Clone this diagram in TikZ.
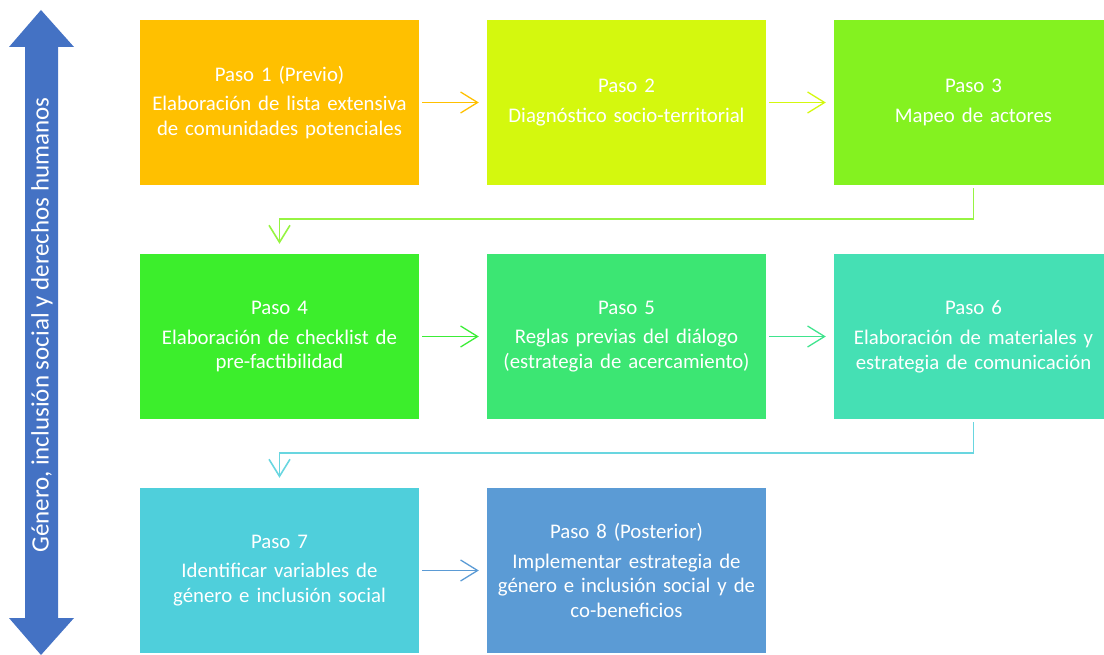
\documentclass[tikz,border=0pt]{standalone}
\usepackage{fontspec}
\setmainfont{Carlito}
\usepackage{tikz}
\usetikzlibrary{
    arrows.meta,
    positioning
}
\usepackage{xcolor}
\definecolor{pasoA}{HTML}{FFC000}
\definecolor{pasoB}{HTML}{D4F80E}
\definecolor{pasoC}{HTML}{84F220}
\definecolor{pasoD}{HTML}{3CEE2C}
\definecolor{pasoE}{HTML}{3CE673}
\definecolor{pasoF}{HTML}{45E0B4}
\definecolor{pasoG}{HTML}{4FCFDB}
\definecolor{pasoH}{HTML}{5B9BD5}
\definecolor{ejeazul}{HTML}{4472C4}

\begin{document}
\begin{tikzpicture}[
        x=1pt, y=-1pt,
        >={Straight Barb[length=17pt, width=21pt]},
        paso/.style={
            rectangle,
            minimum width=279pt,
            minimum height=165pt,
            inner sep=0pt,
            text width=270pt,
            align=center,
            text=white,
            font=\fontsize{20.8}{24.8}\selectfont
        },
        enlace/.style={
            ->,
            line width=1.3pt,
            shorten <=3pt,
            shorten >=8pt
        }
    ]
        \useasboundingbox (0,0) rectangle (1104,655);

        % eje vertical
        \fill[ejeazul] (41,10) -- (74,47) -- (58,47) -- (58,618) -- (74,618)
            -- (41,655) -- (9,618) -- (25,618) -- (25,47) -- (9,47) -- cycle;
        \node[text=white, rotate=90, font=\fontsize{25}{30}\selectfont] (eje) at (42,325)
            {Género, inclusión social y derechos humanos};

        % pasos
        \node[paso, fill=pasoA] (p1) at (279.5,102.5)
            {Paso 1 (Previo)\\[5pt]Elaboración de lista extensiva\\de comunidades potenciales};
        \node[paso, fill=pasoB] (p2) at (626.5,102.5)
            {Paso 2\\[5pt]Diagnóstico socio-territorial};
        \node[paso, fill=pasoC] (p3) at (973.5,102.5)
            {Paso 3\\[5pt]Mapeo de actores};
        \node[paso, fill=pasoD] (p4) at (279.5,336.5)
            {Paso 4\\[5pt]Elaboración de checklist de\\pre-factibilidad};
        \node[paso, fill=pasoE] (p5) at (626.5,336.5)
            {Paso 5\\[5pt]Reglas previas del diálogo\\(estrategia de acercamiento)};
        \node[paso, fill=pasoF] (p6) at (973.5,336.5)
            {Paso 6\\[5pt]Elaboración de materiales y\\estrategia de comunicación};
        \node[paso, fill=pasoG] (p7) at (279.5,570.5)
            {Paso 7\\[5pt]Identificar variables de\\género e inclusión social};
        \node[paso, fill=pasoH] (p8) at (626.5,570.5)
            {Paso 8 (Posterior)\\[5pt]Implementar estrategia de\\género e inclusión social y de\\co-beneficios};

        % conectores
        \draw[enlace, pasoA] (p1) -- (p2);
        \draw[enlace, pasoB] (p2) -- (p3);
        \draw[enlace, pasoC!85!white, line width=1.6pt, shorten >=10pt] (p3.south) -- ++(0,34) -| (p4.north);
        \draw[enlace, pasoD!85!pasoE] (p4) -- (p5);
        \draw[enlace, pasoE!60!pasoF] (p5) -- (p6);
        \draw[enlace, pasoG!85!white, line width=1.6pt, shorten >=10pt] (p6.south) -- ++(0,34) -| (p7.north);
        \draw[enlace, pasoH] (p7) -- (p8);
\end{tikzpicture}
\end{document}
